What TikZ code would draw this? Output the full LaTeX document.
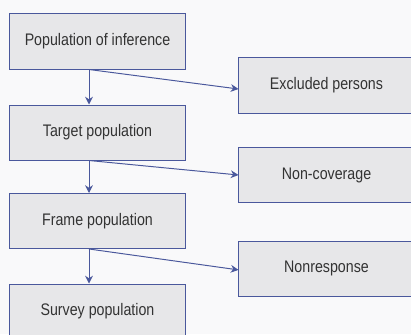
\documentclass[tikz,border=0pt]{standalone}
\usepackage{fontspec}
\setmainfont[FakeStretch=0.85]{Liberation Sans}
\usetikzlibrary{arrows.meta}
\definecolor{boxblue}{HTML}{4A589C}
\definecolor{boxgrey}{HTML}{E7E7E9}
\definecolor{textgrey}{HTML}{333333}
\definecolor{pagegrey}{HTML}{F9F9FA}
\tikzset{
  popbox/.style={draw=boxblue, fill=boxgrey, line width=0.7pt, minimum width=4.375cm,
    minimum height=1.375cm, inner sep=0pt, text=textgrey, font=\fontsize{11.9}{14}\selectfont},
  flow/.style={draw=boxblue, line width=0.7pt, -{Stealth[length=5.5pt,width=5.5pt]}}
}
\begin{document}
\begin{tikzpicture}[x=0.025cm, y=-0.025cm]
  \useasboundingbox (0,0) rectangle (411,334);
  \fill[pagegrey] (0,0) rectangle (411,334);
  \clip (0,0) rectangle (411,334);
  % left column
  \node[popbox] (infer)  at (97.5,41.5)  {Population of inference};
  \node[popbox] (target) at (97.5,132.5) {Target population};
  \node[popbox] (frame)  at (97.5,221)   {Frame population};
  \node[popbox] (survey) at (97.5,311.5) {Survey population};
  % right column
  \node[popbox] (excl)   at (326.5,85.5)  {Excluded persons};
  \node[popbox] (noncov) at (326.5,175)   {Non-coverage};
  \node[popbox] (nonres) at (326.5,268.5) {Nonresponse};
  % arrows
  \coordinate (drop) at (89,0);
  \draw[flow] (infer.south -| drop)  -- (target.north -| drop);
  \draw[flow] (target.south -| drop) -- (frame.north -| drop);
  \draw[flow] (frame.south -| drop)  -- (survey.north -| drop);
  \draw[flow] (infer.south -| drop)  -- ([yshift=-2.5pt]excl.west);
  \draw[flow] (target.south -| drop) -- (noncov.west);
  \draw[flow] (frame.south -| drop)  -- ([yshift=-1pt]nonres.west);
\end{tikzpicture}
\end{document}
